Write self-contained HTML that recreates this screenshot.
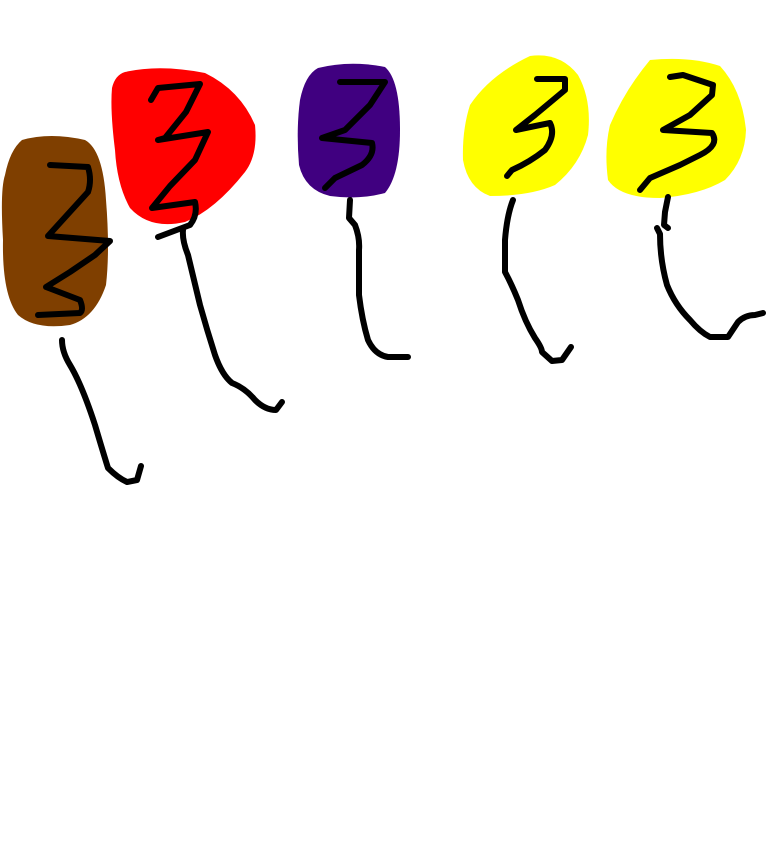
<!DOCTYPE html>
<html><head><style>html,body{margin:0;padding:0;background:#fff;width:768px;height:866px;overflow:hidden}</style></head>
<body>
<svg width="768" height="866" viewBox="0 0 768 866" xmlns="http://www.w3.org/2000/svg">
<g stroke="none">
<path fill="#7f3f00" d="M22,140 Q50,132 85,140 Q103,150 106,200 Q110,250 106,285 Q95,318 70,325 Q35,330 18,315 Q2,295 3,240 Q0,190 5,175 Q10,150 22,140 Z"/>
<path fill="#ff0000" d="M125,72 Q160,64 205,73 Q240,90 255,125 Q258,155 245,172 Q215,210 185,222 Q150,230 130,208 Q117,185 115,150 Q110,110 112,88 Q115,75 125,72 Z"/>
<path fill="#400080" d="M318,68 Q350,60 385,67 Q400,80 400,130 Q400,175 385,193 Q360,200 330,196 Q305,190 299,165 Q296,130 300,100 Q305,75 318,68 Z"/>
<path fill="#ffff00" d="M530,56 Q560,52 578,75 Q592,100 588,135 Q580,165 555,185 Q530,196 490,196 Q468,188 463,160 Q462,130 470,105 Q490,75 530,56 Z"/>
<path fill="#ffff00" d="M650,60 Q690,56 720,66 Q742,90 746,130 Q745,160 725,180 Q700,195 660,198 Q620,198 608,180 Q604,150 610,125 Q625,90 650,60 Z"/>
</g>
<g fill="none" stroke="#000" stroke-width="6" stroke-linecap="round" stroke-linejoin="round">
<path d="M50,165 L88,167 Q92,180 88,192 L48,236 L110,241 L95,255 L70,272 L46,287 L80,300 Q84,310 80,313 L38,315"/>
<path d="M62,340 Q62,352 70,365 Q82,385 95,425 Q103,452 108,468 Q118,478 127,482 L137,480 L141,466"/>
<path d="M151,100 L158,88 L200,84 L186,112 L165,138 L158,140 L208,132 L195,160 L170,186 L152,208 L195,202 Q198,215 190,225 L158,237"/>
<path d="M183,230 Q182,240 188,255 Q194,280 200,305 Q207,330 215,355 Q222,375 232,383 Q245,388 255,400 Q265,410 276,410 L282,402"/>
<path d="M340,82 L385,82 L370,105 L345,130 L322,138 L372,143 Q375,155 362,165 L335,178 L325,188"/>
<path d="M350,200 L349,218 L355,225 Q360,238 359,250 L359,295 Q362,320 368,340 Q375,355 388,357 L408,357"/>
<path d="M537,79 L565,79 L565,90 L535,115 L516,130 L550,123 Q556,135 545,150 Q530,162 512,170 L507,176"/>
<path d="M513,200 Q507,215 505,240 L505,272 Q512,285 518,300 Q525,322 535,338 Q542,348 542,352 L552,361 L562,360 L571,347"/>
<path d="M670,77 L683,75 L713,85 L712,95 L690,115 L663,130 L712,133 Q720,145 700,155 L680,165 L650,178 L640,190"/>
<path d="M668,197 L665,212 L664,225 L668,228"/>
<path d="M657,228 L660,234 Q660,260 667,285 Q675,305 690,320 Q700,332 710,337 L728,337 L738,322 Q745,315 755,315 L763,313"/>
</g>
</svg>
</body></html>
